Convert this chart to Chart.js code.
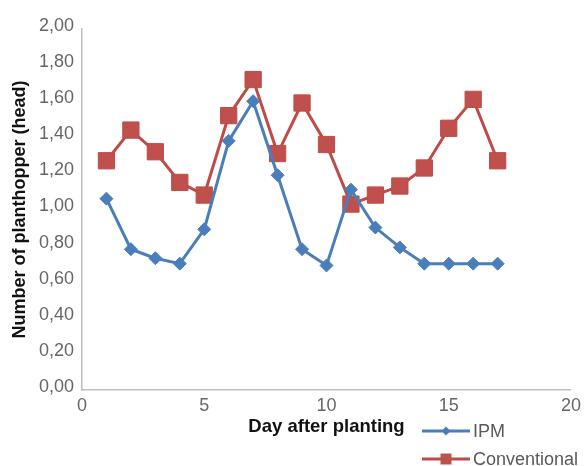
<!DOCTYPE html>
<html>
<head>
<meta charset="utf-8">
<script src="https://cdn.jsdelivr.net/npm/chart.js@4.4.1/dist/chart.umd.min.js"></script>
<style>
  html, body { margin: 0; padding: 0; background: #ffffff; }
  #wrap { width: 586px; height: 466px; position: relative; }
</style>
</head>
<body>
<div id="wrap"><canvas id="c" width="586" height="466"></canvas></div>
<script>
const days = [1, 2, 3, 4, 5, 6, 7, 8, 9, 10, 11, 12, 13, 14, 15, 16, 17];
const ipm = [1.06, 0.78, 0.73, 0.70, 0.89, 1.38, 1.60, 1.19, 0.78, 0.69, 1.11, 0.90, 0.79, 0.70, 0.70, 0.70, 0.70];
const conventional = [1.27, 1.44, 1.32, 1.15, 1.08, 1.52, 1.72, 1.31, 1.59, 1.36, 1.03, 1.08, 1.13, 1.23, 1.45, 1.61, 1.27];
const seriesNames = ['IPM', 'Conventional'];
const xTicks = [0, 5, 10, 15, 20];
const yTicks = [0, 0.2, 0.4, 0.6, 0.8, 1.0, 1.2, 1.4, 1.6, 1.8, 2.0];
const xTitle = 'Day after planting';
const yTitle = 'Number of planthopper (head)';

const BLUE = '#4a7ebb';
const RED = '#be4b48';
const FONT = '"Liberation Sans", Arial, sans-serif';

const legendPlugin = {
  id: 'customLegend',
  afterDraw(chart) {
    const ctx = chart.ctx;
    const items = chart.data.datasets;
    const x0 = 422, lineW = 48;
    const ys = [431, 459];
    ctx.save();
    items.forEach((ds, i) => {
      const y = ys[i];
      ctx.strokeStyle = ds.borderColor;
      ctx.lineWidth = 3;
      ctx.beginPath();
      ctx.moveTo(x0, y);
      ctx.lineTo(x0 + lineW, y);
      ctx.stroke();
      ctx.fillStyle = ds.pointBackgroundColor;
      ctx.beginPath();
      const cx = x0 + lineW / 2;
      if (ds.pointStyle === 'rectRot') {
        const r = 4.5;
        ctx.moveTo(cx, y - r); ctx.lineTo(cx + r, y); ctx.lineTo(cx, y + r); ctx.lineTo(cx - r, y); ctx.closePath();
      } else {
        const s = 5.5;
        ctx.rect(cx - s, y - s, 2 * s, 2 * s);
      }
      ctx.fill();
      ctx.fillStyle = '#595959';
      ctx.font = '18px ' + FONT;
      ctx.textBaseline = 'middle';
      ctx.textAlign = 'left';
      ctx.fillText(ds.label, x0 + lineW + 3, y + 1);
    });
    ctx.restore();
  }
};

new Chart(document.getElementById('c'), {
  type: 'line',
  data: {
    datasets: [
      {
        label: seriesNames[0],
        data: days.map((d, i) => ({ x: d, y: ipm[i] })),
        borderColor: BLUE,
        backgroundColor: BLUE,
        pointBackgroundColor: BLUE,
        pointBorderColor: BLUE,
        borderWidth: 3,
        pointStyle: 'rectRot',
        pointRadius: 6.5,
        pointBorderWidth: 1,
        tension: 0
      },
      {
        label: seriesNames[1],
        data: days.map((d, i) => ({ x: d, y: conventional[i] })),
        borderColor: RED,
        backgroundColor: '#c0504d',
        pointBackgroundColor: '#c0504d',
        pointBorderColor: RED,
        borderWidth: 3,
        pointStyle: 'rect',
        pointRadius: 11.5,
        pointBorderWidth: 1,
        tension: 0
      }
    ]
  },
  options: {
    responsive: false,
    animation: false,
    events: [],
    layout: { padding: { top: 29, right: 14, bottom: 0, left: 0 } },
    plugins: {
      legend: { display: false },
      tooltip: { enabled: false }
    },
    scales: {
      x: {
        type: 'linear',
        min: 0,
        max: 20,
        afterBuildTicks(scale) { scale.ticks = xTicks.map(v => ({ value: v })); },
        afterFit(scale) { scale.height = 76; },
        grid: { display: false, drawTicks: false },
        border: { display: true, color: '#bfbfbf', width: 1.5 },
        ticks: {
          padding: 5,
          color: '#666666',
          font: { family: FONT, size: 18 },
          callback: v => String(v)
        },
        title: {
          display: true,
          text: xTitle,
          color: '#111111',
          font: { family: FONT, size: 18.5, weight: 'bold' },
          padding: { top: 0, bottom: 28 }
        }
      },
      y: {
        type: 'linear',
        min: 0,
        max: 2,
        afterBuildTicks(scale) { scale.ticks = yTicks.map(v => ({ value: v })); },
        afterFit(scale) { scale.width = 82; },
        grid: { display: false, drawTicks: false },
        border: { display: true, color: '#bfbfbf', width: 1.5 },
        ticks: {
          padding: 8,
          labelOffset: -3,
          color: '#666666',
          font: { family: FONT, size: 18 },
          callback: v => Number(v).toFixed(2).replace('.', ',')
        },
        title: {
          display: true,
          text: yTitle,
          color: '#111111',
          font: { family: FONT, size: 18, weight: 'bold' },
          padding: { top: 9, bottom: 0 }
        }
      }
    }
  },
  plugins: [legendPlugin]
});
</script>
</body>
</html>
